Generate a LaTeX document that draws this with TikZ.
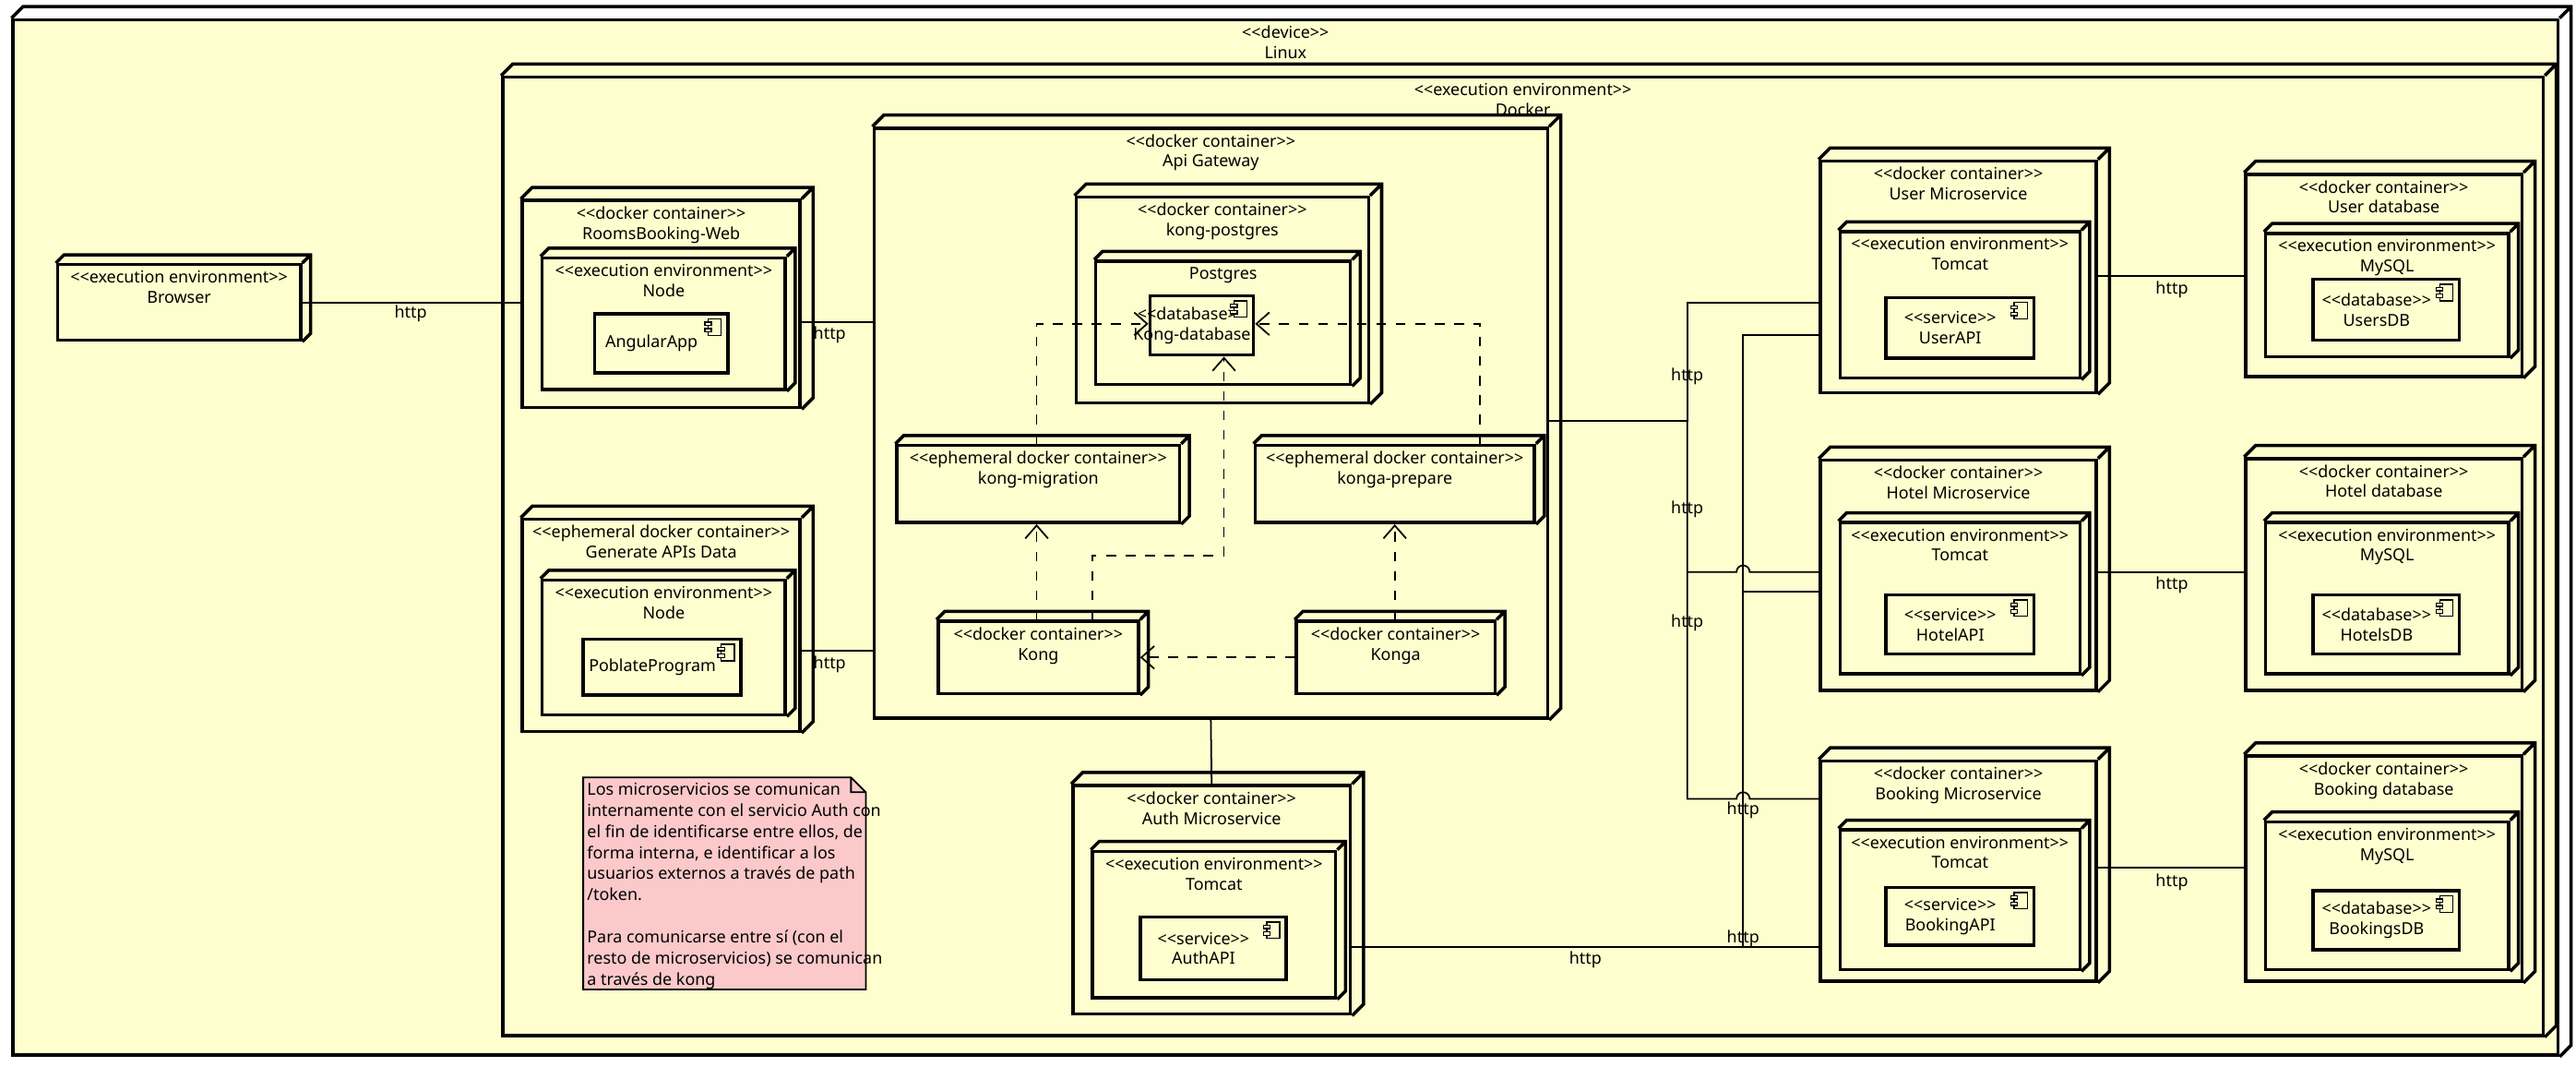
\documentclass[tikz,border=0pt]{standalone}
\usepackage{fontspec}
\setmainfont{Noto Sans}
\usetikzlibrary{arrows.meta,fit,calc,positioning}
\definecolor{umlbg}{HTML}{FEFECE}
\definecolor{notebg}{HTML}{FBC9CA}
\newcommand\st[1]{<{}<#1>{}>}
% 3d deployment box: [depth]{name}{corner}{corner}{text}
\newcommand\ddbox[5][7]{%
  \node[dev, fit={(#3) (#4)}] (#2) {};
  \draw[devline] (#2.north west) -- ++(#1,-#1) -- ($(#2.north east)+(#1,-#1)$)
    -- ($(#2.south east)+(#1,-#1)$) -- (#2.south east) (#2.north east) -- ++(#1,-#1);
  \node[lbl, anchor=north] at ([yshift=-2.2pt]#2.north) {#5};}
% component box with icon
\newcommand\comp[4]{%
  \node[cmp, fit={(#2) (#3)}] (#1) {};
  \node[lbl] at ([xshift=-3pt]#1.center) {#4};
  \draw[thin, fill=umlbg] ($(#1.north east)+(-13,4)$) rectangle +(8,10);
  \draw[thin, fill=umlbg] ($(#1.north east)+(-15,6)$) rectangle +(4,2);
  \draw[thin, fill=umlbg] ($(#1.north east)+(-15,10)$) rectangle +(4,2);}

\begin{document}
\begin{tikzpicture}[x=0.0178cm, y=-0.0178cm,
  lbl/.style={font=\fontsize{5.1}{6.2}\selectfont, align=center, inner sep=0pt},
  dev/.style={draw, line width=1pt, fill=umlbg, inner sep=0pt},
  devline/.style={line width=1pt},
  cmp/.style={draw, line width=1pt, inner sep=0pt},
  conn/.style={line width=0.5pt},
  dep/.style={line width=0.5pt, dashed, -{Straight Barb[length=4pt,width=7pt]}}]
%
\useasboundingbox (0,0) rectangle (1568,649);
%
\ddbox{linux}{8,12}{1557,642}{\st{device}\\Linux}
\ddbox{docker}{306,47}{1548,630}{\st{execution environment}\\Docker}
\ddbox[5]{browser}{35,161}{183,207}{\st{execution environment}\\Browser}
%
\ddbox{rbw}{318,122}{487,248}{\st{docker container}\\RoomsBooking-Web}
\ddbox[5]{rbwnode}{330,157}{478,237}{\st{execution environment}\\Node}
\comp{angular}{362,191}{443,227}{AngularApp}
\ddbox{gad}{318,316}{487,445}{\st{ephemeral docker container}\\Generate APIs Data}
\ddbox[5]{gadnode}{330,353}{478,435}{\st{execution environment}\\Node}
\comp{poblate}{355,389}{451,423}{PoblateProgram}
%
\ddbox{gw}{532,78}{942,437}{\st{docker container}\\Api Gateway}
\ddbox{kongpg}{655,120}{833,245}{\st{docker container}\\kong-postgres}
\ddbox[5]{postgres}{667,159}{822,234}{Postgres}
\comp{kongdb}{700,180}{763,216}{\st{database}\\Kong-database}
\ddbox[5]{migration}{546,271}{718,318}{\st{ephemeral docker container}\\kong-migration}
\ddbox[5]{prepare}{764,271}{934,318}{\st{ephemeral docker container}\\konga-prepare}
\ddbox[5]{kong}{571,378}{693,422}{\st{docker container}\\Kong}
\ddbox[5]{konga}{789,378}{910,422}{\st{docker container}\\Konga}
%
\ddbox{auth}{653,478}{822,617}{\st{docker container}\\Auth Microservice}
\ddbox[5]{authtc}{665,518}{813,607}{\st{execution environment}\\Tomcat}
\comp{authapi}{694,558}{783,596}{\st{service}\\AuthAPI}
%
\ddbox{user}{1108,98}{1276,239}{\st{docker container}\\User Microservice}
\ddbox[5]{usertc}{1120,141}{1266,230}{\st{execution environment}\\Tomcat}
\comp{userapi}{1148,181}{1238,218}{\st{service}\\UserAPI}
\ddbox{hotel}{1108,280}{1276,420}{\st{docker container}\\Hotel Microservice}
\ddbox[5]{hoteltc}{1120,318}{1266,410}{\st{execution environment}\\Tomcat}
\comp{hotelapi}{1148,362}{1238,398}{\st{service}\\HotelAPI}
\ddbox{booking}{1108,463}{1276,597}{\st{docker container}\\Booking Microservice}
\ddbox[5]{bookingtc}{1120,505}{1266,590}{\st{execution environment}\\Tomcat}
\comp{bookingapi}{1148,540}{1238,575}{\st{service}\\BookingAPI}
%
\ddbox{userdb}{1367,106}{1535,229}{\st{docker container}\\User database}
\ddbox[5]{usersql}{1379,142}{1527,217}{\st{execution environment}\\MySQL}
\comp{usersdb}{1408,170}{1497,207}{\st{database}\\UsersDB}
\ddbox{hoteldb}{1367,279}{1535,420}{\st{docker container}\\Hotel database}
\ddbox[5]{hotelsql}{1379,318}{1527,410}{\st{execution environment}\\MySQL}
\comp{hotelsdb}{1408,362}{1497,398}{\st{database}\\HotelsDB}
\ddbox{bookingdb}{1367,460}{1535,597}{\st{docker container}\\Booking database}
\ddbox[5]{bookingsql}{1379,500}{1527,590}{\st{execution environment}\\MySQL}
\comp{bookingsdb}{1408,542}{1497,578}{\st{database}\\BookingsDB}
%
\fill[notebg] (355,473) -- (518,473) -- (527,482) -- (527,602) -- (355,602) -- cycle;
\draw[conn] (355,473) -- (518,473) -- (527,482) -- (527,602) -- (355,602) -- cycle
  (518,473) |- (527,482);
\node[lbl, align=left, anchor=north west, font=\fontsize{5.1}{6.5}\selectfont] (note) at (357,476)
  {Los microservicios se comunican\\internamente con el servicio Auth con\\el fin de identificarse entre ellos, de\\forma interna, e identificar a los\\usuarios externos a través de path\\/token.\\[6.5pt]Para comunicarse entre sí (con el\\resto de microservicios) se comunican\\a través de kong};
%
\draw[conn] (browser.east) -- (rbw.west |- browser.east);
\node[lbl] at (250,191) {http};
\draw[conn] (rbw.east |- 0,196) -- (gw.west |- 0,196);
\node[lbl] at (505,204) {http};
\draw[conn] (gad.east |- 0,396) -- (gw.west |- 0,396);
\node[lbl] at (505,404) {http};
\draw[conn] (gw.south |- 0,437) -- (auth.north);
%
\coordinate (bus) at (1027,256);
\draw[conn] (gw.east |- bus) -- (bus) |- (user.west |- 0,184);
\draw[conn] (bus) -- (1027,486) -- (1057,486) arc (180:360:4) -- (booking.west |- 0,486);
\draw[conn] (1027,348) -- (1057,348) arc (180:360:4) -- (hotel.west |- 0,348);
\node[lbl] at (1027,229) {http};
\node[lbl] at (1027,310) {http};
\node[lbl] at (1027,379) {http};
\coordinate (authbus) at (1061,576);
\draw[conn] (auth.east |- authbus) -- (booking.west |- authbus);
\draw[conn] (authbus) -- (1061,204) -- (user.west |- 0,204);
\draw[conn] (1061,360) -- (hotel.west |- 0,360);
\node[lbl] at (965,584) {http};
\node[lbl] at (1061,493) {http};
\node[lbl] at (1061,571) {http};
%
\draw[conn] (user.east |- 0,168) -- (userdb.west |- 0,168);
\node[lbl] at (1322,176) {http};
\draw[conn] (hotel.east |- 0,348) -- (hoteldb.west |- 0,348);
\node[lbl] at (1322,356) {http};
\draw[conn] (booking.east |- 0,528) -- (bookingdb.west |- 0,528);
\node[lbl] at (1322,537) {http};
%
\draw[dep] (migration.north -| 631,0) |- (kongdb.west |- 0,197);
\draw[dep] (prepare.north -| 901,0) |- (kongdb.east |- 0,197);
\draw[dep] (kong.north -| 665,0) -- (665,338) -| (kongdb.south -| 745,0);
\draw[dep] (kong.north -| 631,0) -- (migration.south -| 631,0);
\draw[dep] (konga.north -| 849,0) -- (prepare.south -| 849,0);
\draw[dep] (konga.west |- 0,400) -- (kong.east |- 0,400);
%
\end{tikzpicture}
\end{document}
